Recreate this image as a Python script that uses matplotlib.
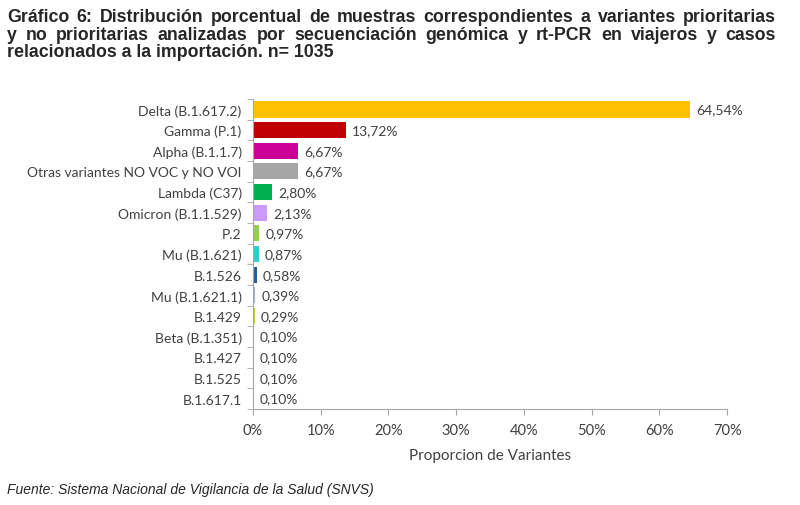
import matplotlib.pyplot as plt
import numpy as np

# Datos del gráfico
variantes = ['Delta (B.1.617.2)', 'Gamma (P.1)', 'Alpha (B.1.1.7)', 'Otras variantes NO VOC y NO VOI',
             'Lambda (C37)', 'Omicron (B.1.1.529)', 'P.2', 'Mu (B.1.621)', 'B.1.526', 'Mu (B.1.621.1)',
             'B.1.429', 'Beta (B.1.351)', 'B.1.427', 'B.1.525', 'B.1.617.1']
porcentajes = [64.54, 13.72, 6.67, 6.67, 2.80, 2.13, 0.97, 0.87, 0.58, 0.39, 0.29, 0.10, 0.10, 0.10, 0.10]
colores = ['#FFC000', '#C00000', '#CC0099', '#A6A6A6', '#00B050', '#CC99FF', '#92D050', '#33CCCC',
           '#1F5F9F', '#9DAFD8', '#C9C83B', '#E0E0E0', '#9DC3E6', '#E0E0E0', '#C4A86B']
ticks_x = [0, 10, 20, 30, 40, 50, 60, 70]

titulo = ['Gráfico 6: Distribución porcentual de muestras correspondientes a variantes prioritarias',
          'y no prioritarias analizadas por secuenciación genómica y rt-PCR en viajeros y casos',
          'relacionados a la importación. n= 1035']

gris = '#404040'

fig = plt.figure(figsize=(8, 5.06), dpi=100)
ax = fig.add_axes([0.316, 0.19, 0.593, 0.612])

y = np.arange(len(variantes))
ax.barh(y, porcentajes, height=0.78, color=colores)
for yi, v in zip(y, porcentajes):
    ax.text(v + 0.9, yi, f'{v:.2f}%'.replace('.', ','), va='center', ha='left',
            fontsize=10, color=gris, family='Lato')

ax.set_ylim(len(variantes) - 0.5, -0.5)
ax.set_xlim(0, 70)
ax.set_yticks(y)
ax.set_yticklabels(variantes, fontsize=10, color=gris, family='Lato')
ax.set_yticks(np.arange(-0.5, len(variantes), 1), minor=True)
ax.tick_params(axis='y', which='major', length=0, pad=8)
ax.tick_params(axis='y', which='minor', length=4, color='#A6A6A6', direction='out')
ax.set_xticks(ticks_x)
ax.set_xticklabels([f'{t}%' for t in ticks_x], fontsize=10.5, color=gris, family='Lato')
ax.tick_params(axis='x', length=4, color='#A6A6A6', direction='out', pad=6)
ax.set_xlabel('Proporcion de Variantes', fontsize=11, color=gris, family='Lato', labelpad=8)

for s in ['top', 'right']:
    ax.spines[s].set_visible(False)
for s in ['left', 'bottom']:
    ax.spines[s].set_color('#A6A6A6')

# Titulo justificado (las dos primeras lineas ocupan todo el ancho)
fig.canvas.draw()
renderer = fig.canvas.get_renderer()
x0, x1 = 7, 776
props = dict(fontsize=12.8, fontweight='bold', color='#262626', family='Liberation Sans', va='center')
for i, linea in enumerate(titulo):
    ypix = 506 - (17 + 18 * i)
    palabras = linea.split(' ')
    if i < len(titulo) - 1:
        textos = [fig.text(0, ypix / 506, p, ha='left', **props) for p in palabras]
        anchos = [t.get_window_extent(renderer).width for t in textos]
        hueco = (x1 - x0 - sum(anchos)) / (len(palabras) - 1)
        xp = x0
        for t, w in zip(textos, anchos):
            t.set_x(xp / 800)
            xp += w + hueco
    else:
        fig.text(x0 / 800, ypix / 506, linea, ha='left', **props)

fig.text(0.009, 1 - 490 / 506, 'Fuente: Sistema Nacional de Vigilancia de la Salud (SNVS)', ha='left', va='center',
         fontsize=10, style='italic', color='#262626', family='Liberation Sans')

fig.savefig('out.png', dpi=100)
